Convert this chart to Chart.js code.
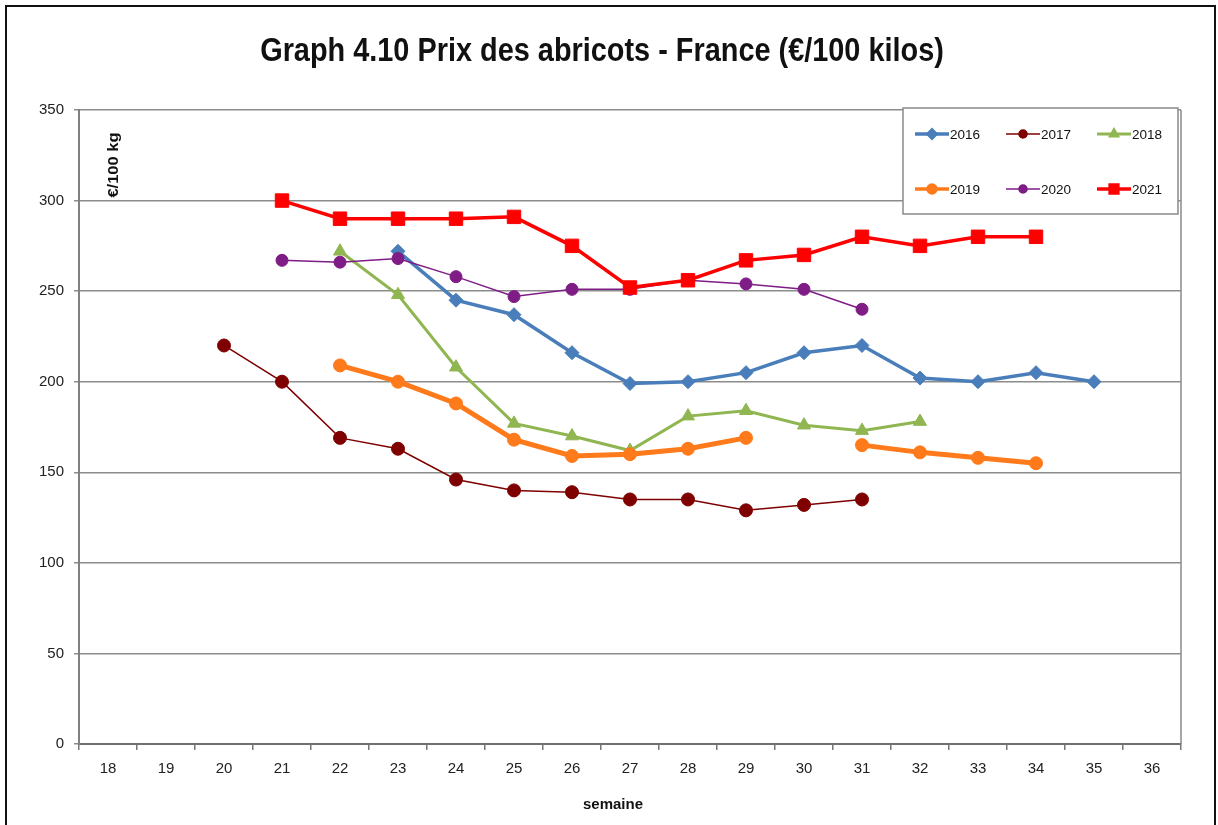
<!DOCTYPE html>
<html>
<head>
<meta charset="utf-8">
<script src="https://cdn.jsdelivr.net/npm/chart.js@4/dist/chart.umd.min.js"></script>
<style>
  html, body { margin: 0; padding: 0; background: #fff; }
  #wrap { width: 1218px; height: 825px; }
</style>
</head>
<body>
<div id="wrap"><canvas id="c" width="1218" height="825"></canvas></div>
<script>
const weeks = ['18','19','20','21','22','23','24','25','26','27','28','29','30','31','32','33','34','35','36'];
const seriesNames = ['2016','2017','2018','2019','2020','2021'];
//            18    19    20    21    22    23    24    25    26    27    28    29    30    31    32    33    34    35    36
const y2016 = [null, null, null, null, null, 272,  245,  237,  216,  199,  200,  205,  216,  220,  202,  200,  205,  200,  null];
const y2017 = [null, null, 220,  200,  169,  163,  146,  140,  139,  135,  135,  129,  132,  135,  null, null, null, null, null];
const y2018 = [null, null, null, null, 272,  248,  208,  177,  170,  162,  181,  184,  176,  173,  178,  null, null, null, null];
const y2019 = [null, null, null, null, 209,  200,  188,  168,  159,  160,  163,  169,  null, 165,  161,  158,  155,  null, null];
const y2020 = [null, null, null, 267,  266,  268,  258,  247,  251,  251,  256,  254,  251,  240,  null, null, null, null, null];
const y2021 = [null, null, null, 300,  290,  290,  290,  291,  275,  252,  256,  267,  270,  280,  275,  280,  280,  null, null];
const yTicksMin = 0, yTicksMax = 350, yTicksStep = 50;
const titleText = 'Graph 4.10 Prix des abricots - France (€/100 kilos)';
const yTitleText = '€/100 kg';
const xTitleText = 'semaine';

const FONT = '"Liberation Sans", Arial, sans-serif';

const styles = [
  { color: '#4a7ebb', width: 3.5, point: 'rectRot',  radius: 7,   legendRadius: 4 },
  { color: '#7f0000', width: 1.5, point: 'circle',   radius: 6.5, legendRadius: 4 },
  { color: '#8fb651', width: 3,   point: 'triangle', radius: 7.5, legendRadius: 4 },
  { color: '#ff7a1a', width: 5,   point: 'circle',   radius: 6.5, legendRadius: 4 },
  { color: '#7f1c86', width: 1.5, point: 'circle',   radius: 6,   legendRadius: 4 },
  { color: '#ff0000', width: 3.5, point: 'rect',     radius: 9.5, legendRadius: 5.5 }
];
const values = [y2016, y2017, y2018, y2019, y2020, y2021];

const datasets = seriesNames.map((name, i) => ({
  label: name,
  data: values[i],
  borderColor: styles[i].color,
  backgroundColor: styles[i].color,
  borderWidth: styles[i].width,
  pointStyle: styles[i].point,
  pointRadius: styles[i].radius,
  pointBorderWidth: 1,
  pointBackgroundColor: styles[i].color,
  pointBorderColor: styles[i].color,
  tension: 0,
  spanGaps: false,
  order: seriesNames.length - i
}));

const framePlugin = {
  id: 'frame',
  beforeDraw(chart) {
    const ctx = chart.ctx;
    ctx.save();
    ctx.fillStyle = '#fff';
    ctx.fillRect(0, 0, chart.width, chart.height);
    ctx.strokeStyle = '#111';
    ctx.lineWidth = 2;
    ctx.strokeRect(6, 6, 1209, 830);
    ctx.restore();
  },
  afterDraw(chart) {
    const ctx = chart.ctx;
    const a = chart.chartArea;
    ctx.save();

    // title (tall, slightly condensed)
    ctx.fillStyle = '#111';
    ctx.font = 'bold 33px ' + FONT;
    ctx.textAlign = 'center';
    ctx.textBaseline = 'alphabetic';
    ctx.translate(602, 61);
    ctx.scale(0.875, 1);
    ctx.fillText(titleText, 0, 0);
    ctx.setTransform(1, 0, 0, 1, 0, 0);

    // right border of plot area
    ctx.strokeStyle = '#8a8a8a';
    ctx.lineWidth = 1.5;
    ctx.beginPath();
    ctx.moveTo(a.right, a.top);
    ctx.lineTo(a.right, a.bottom);
    ctx.stroke();

    // y-axis title inside plot area
    ctx.fillStyle = '#111';
    ctx.font = 'bold 15px ' + FONT;
    ctx.textAlign = 'center';
    ctx.textBaseline = 'middle';
    ctx.translate(a.left + 35, a.top + 55);
    ctx.rotate(-Math.PI / 2);
    ctx.scale(1.1, 1);
    ctx.fillText(yTitleText, 0, 0);
    ctx.setTransform(1, 0, 0, 1, 0, 0);

    // x-axis title
    ctx.font = 'bold 15px ' + FONT;
    ctx.textAlign = 'center';
    ctx.textBaseline = 'middle';
    ctx.fillText(xTitleText, 613, a.bottom + 61);

    // legend
    const bx = a.right - 278, by = a.top - 2, bw = 275, bh = 106;
    ctx.fillStyle = '#fff';
    ctx.fillRect(bx, by, bw, bh);
    ctx.strokeStyle = '#8a8a8a';
    ctx.lineWidth = 1.5;
    ctx.strokeRect(bx, by, bw, bh);
    chart.data.datasets.forEach((ds, i) => {
      const col = i % 3, row = Math.floor(i / 3);
      const lx = bx + 12 + col * 91;
      const ly = by + 26 + row * 55;
      const st = styles[i];
      ctx.strokeStyle = st.color;
      ctx.lineWidth = Math.min(st.width, 3.5);
      ctx.beginPath();
      ctx.moveTo(lx, ly);
      ctx.lineTo(lx + 34, ly);
      ctx.stroke();
      ctx.fillStyle = st.color;
      Chart.helpers.drawPoint(ctx, { pointStyle: st.point, radius: st.legendRadius, borderWidth: 1, rotation: 0 }, lx + 17, ly);
      ctx.fill();
      ctx.fillStyle = '#111';
      ctx.font = '13.5px ' + FONT;
      ctx.textAlign = 'left';
      ctx.textBaseline = 'middle';
      ctx.fillText(ds.label, lx + 35, ly + 1);
    });
    ctx.restore();
  }
};

new Chart(document.getElementById('c'), {
  type: 'line',
  data: { labels: weeks, datasets },
  plugins: [framePlugin],
  options: {
    responsive: false,
    animation: false,
    devicePixelRatio: 1,
    layout: { padding: { left: 0, right: 37, top: 110, bottom: 0 } },
    plugins: {
      legend: { display: false },
      tooltip: { enabled: false },
      title: { display: false }
    },
    scales: {
      x: {
        type: 'category',
        offset: true,
        grid: { offset: true, drawOnChartArea: false, drawTicks: true, tickLength: 6, color: '#777', lineWidth: 1.5 },
        border: { display: true, color: '#707070', width: 2 },
        ticks: { color: '#222', font: { family: FONT, size: 15 }, padding: 10, maxRotation: 0, autoSkip: false },
        afterFit(scale) { scale.height = 81; }
      },
      y: {
        min: yTicksMin,
        max: yTicksMax,
        ticks: { stepSize: yTicksStep, color: '#222', font: { family: FONT, size: 15 }, padding: 10 },
        grid: { color: '#8c8c8c', lineWidth: 1.5, drawTicks: true, tickLength: 5 },
        border: { display: true, color: '#808080', width: 2 },
        afterFit(scale) { scale.width = 79; }
      }
    }
  }
});
</script>
</body>
</html>
